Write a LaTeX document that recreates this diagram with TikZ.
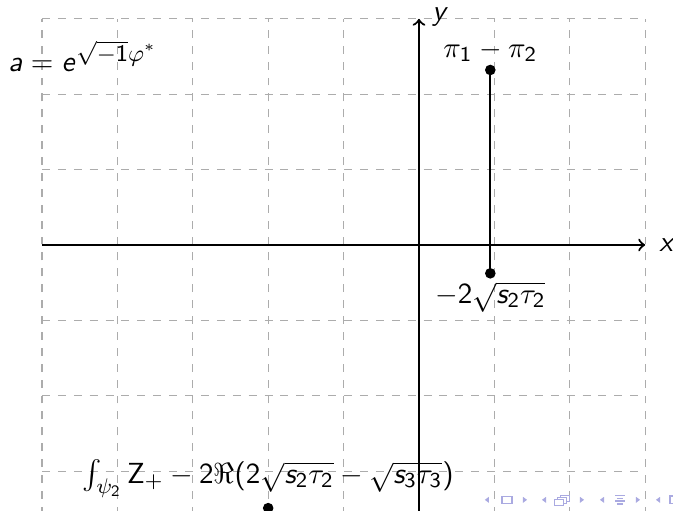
\documentclass[tikz,border=0pt]{standalone}
\usepackage{amsmath}
\SetSymbolFont{operators}{normal}{OT1}{cmss}{m}{n}
\DeclareSymbolFont{sfletters}{OT1}{cmss}{m}{sl}
\DeclareMathSymbol{a}{\mathalpha}{sfletters}{`a}
\DeclareMathSymbol{e}{\mathalpha}{sfletters}{`e}
\DeclareMathSymbol{s}{\mathalpha}{sfletters}{`s}
\DeclareMathSymbol{x}{\mathalpha}{sfletters}{`x}
\DeclareMathSymbol{y}{\mathalpha}{sfletters}{`y}
\definecolor{navcol}{RGB}{170,170,225}
\tikzset{
  gridline/.style={gray!65, dashed, line width=0.4pt},
  axis/.style={thick, ->},
  seg/.style={thick},
  dot/.style={circle, fill=black, inner sep=0pt, minimum size=4pt},
  lab/.style={inner sep=0pt},
  navl/.pic={\fill[navcol] (0.027,0.04) -- (-0.027,0) -- (0.027,-0.04) -- cycle;},
  navr/.pic={\fill[navcol] (-0.027,0.04) -- (0.027,0) -- (-0.027,-0.04) -- cycle;},
}
\begin{document}
\begin{tikzpicture}[font=\fontsize{10.95}{13.6}\selectfont]
\useasboundingbox (-5.557,-3.515) rectangle (3.369,3.249);
\begin{scope}
\clip (-5.557,-3.515) rectangle (3.369,3.249);
\draw[gridline] (-5,-4) grid (3,3);
\coordinate (xs) at (-5,0);
\coordinate (xe) at (3,0);
\coordinate (ys) at (0,-4);
\coordinate (ye) at (0,3);
\draw[axis] (xs) -- (xe);
\draw[axis] (ys) -- (ye);
\node[lab, anchor=base west] (xl) at (3.18,-0.093) {$x$};
\node[lab, anchor=base west] (yl) at (0.17,2.98) {$y$};
\node[dot] (p1) at (0.946,2.321) {};
\node[dot] (p2) at (0.946,-0.376) {};
\node[dot] (p3) at (-2,-3.49) {};
\draw[seg] (p1.center) -- (p2.center);
\node[lab, anchor=base] (l1) at (0.946,2.49) {$\pi_1-\pi_2$};
\node[lab, anchor=base] (l2) at (0.946,-0.77) {$-2\sqrt{s_2\tau_2}$};
\node[lab, anchor=base] (l3) at (-2,-3.16) {$\int_{\psi_2} \mathrm{Z}_+ - 2\Re(2\sqrt{s_2\tau_2}-\sqrt{s_3\tau_3})$};
\node[lab, anchor=base west] (l0) at (-5.45,2.295) {$a = e^{\text{\fontsize{9}{10}\selectfont$\sqrt{-1}\varphi^*$}}$};
% navigation symbols
\pic at (0.90,-3.38) {navl};
\draw[navcol, line width=0.5pt] (1.167,-3.38) +(-0.066,-0.046) rectangle +(0.066,0.046);
\pic at (1.406,-3.38) {navr};
\pic at (1.658,-3.38) {navl};
\begin{scope}[shift={(1.897,-3.38)}]
\draw[navcol, fill=white, line width=0.5pt] (-0.02,-0.02) rectangle (0.1,0.06);
\draw[navcol, fill=white, line width=0.5pt] (-0.06,-0.045) rectangle (0.06,0.035);
\draw[navcol, fill=white, line width=0.5pt] (-0.1,-0.075) rectangle (0.02,0.005);
\end{scope}
\pic at (2.162,-3.38) {navr};
\pic at (2.427,-3.38) {navl};
\begin{scope}[shift={(2.666,-3.38)}]
\draw[navcol, line width=0.6pt] (-0.06,0.055) -- (0.06,0.055);
\draw[navcol, line width=0.6pt] (-0.04,0.018) -- (0.04,0.018);
\draw[navcol, line width=0.6pt] (-0.06,-0.018) -- (0.06,-0.018);
\draw[navcol, line width=0.6pt] (-0.04,-0.055) -- (0.04,-0.055);
\end{scope}
\pic at (2.905,-3.38) {navr};
\pic at (3.17,-3.38) {navl};
\draw[navcol, line width=0.5pt] (3.36,-3.38) +(-0.03,-0.05) rectangle +(0.03,0.05);
\end{scope}
\end{tikzpicture}
\end{document}
